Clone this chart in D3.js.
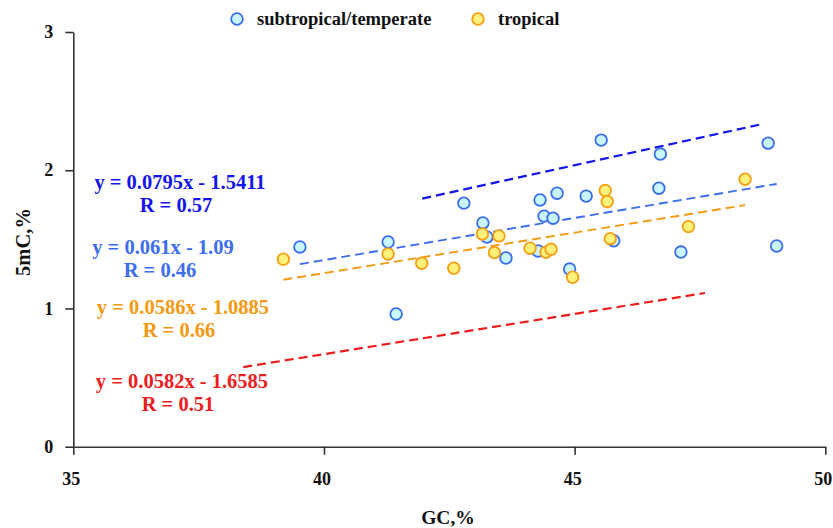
<!DOCTYPE html>
<html>
<head>
<meta charset="utf-8">
<script src="https://cdn.jsdelivr.net/npm/d3@7"></script>
<style>
  html, body { margin: 0; padding: 0; background: #fff; }
  svg { display: block; font-family: "Liberation Serif", "Times New Roman", serif; font-weight: bold; }
</style>
</head>
<body>
<svg id="chart" width="833" height="528"></svg>
<script>
// GC content (%) vs 5mC (%) by climate group
const subtropicalGC  = [39.52, 41.28, 41.44, 42.79, 43.17, 43.25, 43.63, 44.31, 44.39, 44.57, 44.65, 44.27, 44.90, 45.23, 45.53, 45.78, 46.71, 46.68, 47.12, 48.86, 49.03];
const subtropical5mC = [1.445, 1.481, 0.960, 1.762, 1.619, 1.517, 1.365, 1.785, 1.668, 1.653, 1.834, 1.416, 1.285, 1.813, 2.218, 1.490, 2.117, 1.870, 1.408, 2.196, 1.452];

const tropicalGC  = [39.19, 41.28, 41.95, 42.59, 43.16, 43.49, 43.40, 44.11, 44.43, 44.53, 44.96, 45.61, 45.65, 45.71, 47.27, 48.40];
const tropical5mC = [1.356, 1.394, 1.327, 1.291, 1.539, 1.525, 1.404, 1.436, 1.407, 1.428, 1.226, 1.853, 1.773, 1.505, 1.592, 1.935];

// Linear fits: slope, intercept, x range, R
const fitSlopes     = [0.0795, 0.061, 0.0586, 0.0582];
const fitIntercepts = [-1.5411, -1.09, -1.0885, -1.6585];
const fitStarts     = [41.96, 39.52, 39.19, 38.39];
const fitEnds       = [48.68, 49.03, 48.40, 47.60];
const fitR          = ["0.57", "0.46", "0.66", "0.51"];
const fitLabels     = ["y = 0.0795x - 1.5411", "y = 0.061x - 1.09", "y = 0.0586x - 1.0885", "y = 0.0582x - 1.6585"];
const fitColors     = ["#1515f0", "#3d6ef2", "#f59a12", "#ee1c1c"];

const xTicks = [35, 40, 45, 50];
const yTicks = [0, 1, 2, 3];
const legendNames = ["subtropical/temperate", "tropical"];

const svg = d3.select("#chart");
const x = d3.scaleLinear().domain([35, 50]).range([73.3, 825.3]);
const y = d3.scaleLinear().domain([0, 3]).range([446.7, 32]);

const axisColor = "#333";
const serif = "'Liberation Serif', 'Times New Roman', serif";

// Axes
const gx = svg.append("g").attr("transform", `translate(0,${y(0)})`)
  .call(d3.axisBottom(x).tickValues(xTicks).tickSize(8).tickSizeOuter(0).tickPadding(18).tickFormat(d3.format("d")));
const gy = svg.append("g").attr("transform", `translate(${x(35)},0)`)
  .call(d3.axisLeft(y).tickValues(yTicks).tickSize(8).tickSizeOuter(0).tickPadding(12).tickFormat(d3.format("d")));
[gx, gy].forEach(g => {
  g.attr("font-family", null).attr("font-size", null);
  g.selectAll("path, line").attr("stroke", axisColor).attr("stroke-width", 1.6);
  g.selectAll("text").attr("fill", "#111").style("font-family", serif)
    .style("font-weight", "bold").style("font-size", "18px");
});
gx.selectAll("text").attr("dy", "0.71em").attr("dx", -2.5);

// Axis titles
svg.append("text").attr("x", 448).attr("y", 523.5).attr("text-anchor", "middle")
  .attr("fill", "#111").style("font-size", "19.5px").text("GC,%");
svg.append("text").attr("transform", "translate(30,242) rotate(-90)").attr("text-anchor", "middle")
  .attr("fill", "#111").style("font-size", "20.5px").text("5mC,%");

// Trend lines
const fits = fitSlopes.map((s, i) => ({ s, b: fitIntercepts[i], x0: fitStarts[i], x1: fitEnds[i], c: fitColors[i] }));
svg.append("g").selectAll("line").data(fits).join("line")
  .attr("x1", d => x(d.x0)).attr("y1", d => y(d.s * d.x0 + d.b))
  .attr("x2", d => x(d.x1)).attr("y2", d => y(d.s * d.x1 + d.b))
  .attr("stroke", d => d.c).attr("stroke-width", (d, i) => (i === 0 || i === 3) ? 2.2 : 1.9)
  .attr("stroke-dasharray", "9,5");

// Points
const blueFill = "#c9f7ff", blueStroke = "#3a6cf0";
const yellowFill = "#fff07c", yellowStroke = "#f59f14";
const subPts = subtropicalGC.map((g, i) => ({ g, m: subtropical5mC[i] }));
const tropPts = tropicalGC.map((g, i) => ({ g, m: tropical5mC[i] }));

svg.append("g").selectAll("circle").data(subPts).join("circle")
  .attr("cx", d => x(d.g)).attr("cy", d => y(d.m)).attr("r", 5.8)
  .attr("fill", blueFill).attr("stroke", blueStroke).attr("stroke-width", 1.8);
svg.append("g").selectAll("circle").data(tropPts).join("circle")
  .attr("cx", d => x(d.g)).attr("cy", d => y(d.m)).attr("r", 5.8)
  .attr("fill", yellowFill).attr("stroke", yellowStroke).attr("stroke-width", 1.8);

// Equation labels
const eqY = [182, 247, 307, 381];
const eqX = [180, 163, 183, 182];
const rX  = [176, 160, 179, 178];
const eq = svg.append("g").style("font-size", "20.5px");
fitLabels.forEach((t, i) => {
  eq.append("text").attr("x", eqX[i]).attr("y", eqY[i]).attr("dy", "0.35em")
    .attr("text-anchor", "middle").attr("fill", fitColors[i]).text(t);
  eq.append("text").attr("x", rX[i]).attr("y", eqY[i] + 23).attr("dy", "0.35em")
    .attr("text-anchor", "middle").attr("fill", fitColors[i]).text("R = " + fitR[i]);
});

// Legend
const legX = [237, 478];
const legFills = [blueFill, yellowFill], legStrokes = [blueStroke, yellowStroke];
legendNames.forEach((n, i) => {
  svg.append("circle").attr("cx", legX[i]).attr("cy", 19).attr("r", 5.8)
    .attr("fill", legFills[i]).attr("stroke", legStrokes[i]).attr("stroke-width", 1.8);
  svg.append("text").attr("x", legX[i] + 20).attr("y", 19).attr("dy", "0.35em")
    .attr("fill", "#111").style("font-size", "18.5px").text(n);
});
</script>
</body>
</html>
